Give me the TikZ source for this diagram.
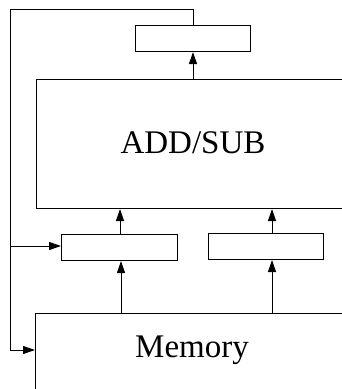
\documentclass[tikz,border=0pt]{standalone}
\usepackage{fontspec}
\setmainfont{Liberation Serif}
\usetikzlibrary{arrows.meta}
\begin{document}
\begin{tikzpicture}[x=1pt,y=-1pt,
  box/.style={draw, line width=1pt, inner sep=0pt, anchor=north west},
  arr/.style={-{Triangle[length=12pt,width=8pt]}, line width=1pt},
  wire/.style={line width=1pt},
  big/.style={font=\fontsize{33}{40}\selectfont}]
\useasboundingbox (0,0) rectangle (342,389);
\clip (0,0) rectangle (342,389);
\node[box, minimum width=115pt, minimum height=26pt] (top) at (135,25) {};
\node[box, minimum width=314pt, minimum height=129pt] (add) at (36,79) {};
\node[big] (addtext) at (193,143) {ADD/SUB};
\node[box, minimum width=116pt, minimum height=26pt] (lreg) at (61,234) {};
\node[box, minimum width=115pt, minimum height=26pt] (rreg) at (208,233) {};
\node[box, minimum width=315pt, minimum height=100pt] (mem) at (35,313) {};
\node[big] (memtext) at (192,350) {Memory};
\coordinate (fbtop) at (10,9);
\coordinate (fbbr) at (10,246);
\coordinate (fbbot) at (10,350);
\draw[arr] (add.north -| top.south) -- (top.south);
\draw[arr] (lreg.north -| 120,0) -- (add.south -| 120,0);
\draw[arr] (rreg.north -| 272,0) -- (add.south -| 272,0);
\draw[arr] (mem.north -| 121,0) -- (lreg.south -| 121,0);
\draw[arr] (mem.north -| 272,0) -- (rreg.south -| 272,0);
\draw[wire] (top.north) |- (fbtop) -- (fbbot);
\draw[arr] (fbbr) -- (fbbr -| lreg.west);
\draw[arr] (fbbot) -- (fbbot -| mem.west);
\end{tikzpicture}
\end{document}
